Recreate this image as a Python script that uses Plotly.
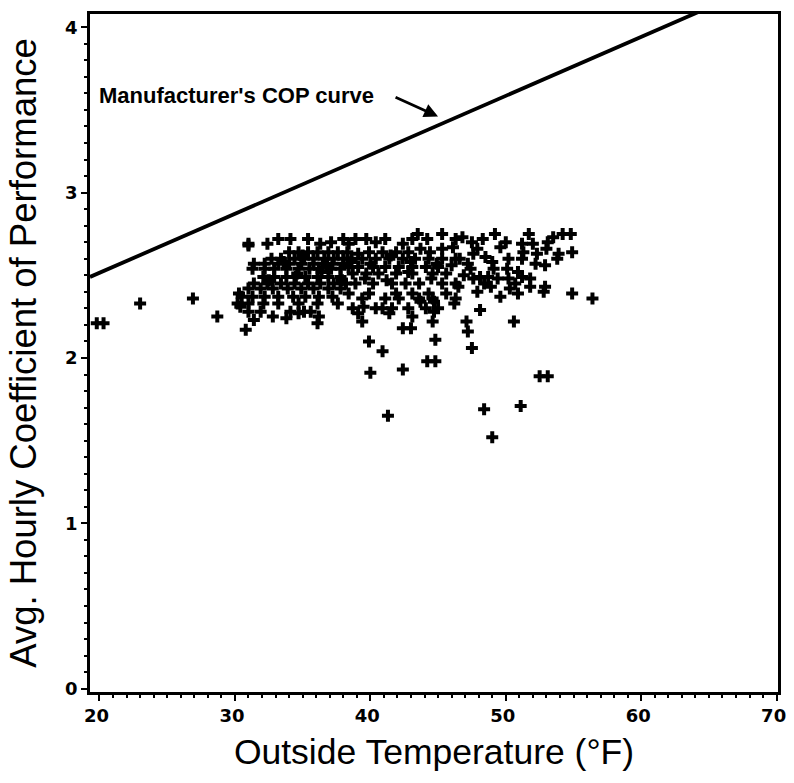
import plotly.graph_objects as go

temp_f = [
    19.8, 20.3, 23.0, 26.9, 28.7, 30.8, 31.0, 30.3, 30.4,
    39.9, 40.9, 40.0, 42.4, 41.3, 42.4, 43.0, 44.2, 44.8, 44.8, 44.6, 44.7, 43.1, 46.2, 47.1, 47.2, 47.5,
    48.1, 48.4, 49.0, 50.6, 51.1, 52.5, 53.1, 56.4, 36.1, 36.2, 39.4, 39.1, 39.5, 40.9, 41.4, 43.7, 44.7,
    35.1, 54.9, 33.8, 32.8, 31.4, 34.7,
    54.8, 54.2, 53.5, 53.1, 53.0, 53.9, 54.9, 53.8, 52.9, 51.7, 52.0, 51.2, 51.3, 51.2, 52.3, 52.2,
    49.2, 50.0, 49.6, 50.2, 50.1, 50.9, 51.2, 51.8, 50.2, 50.7, 50.3, 51.8, 50.9, 52.9, 52.8,
    49.1, 49.4, 48.7, 48.1, 47.6, 48.4, 48.3, 48.5, 47.6, 47.2, 47.4, 49.0,
    46.8, 47.5, 47.9, 46.6, 46.9, 47.9, 48.9, 49.6, 46.5,
    45.3, 43.5, 44.2, 43.1, 42.4, 41.1, 40.4, 39.7, 38.9, 38.4,
    46.3, 46.1, 45.3, 44.4, 43.7, 42.8, 41.9, 40.9, 39.9, 39.1,
    38.6, 39.4, 40.4, 41.4, 42.4, 43.3, 44.3, 45.3, 46.3,
    38.4, 39.1, 40.2, 41.1, 42.1, 43.1, 44.1, 45.0,
    38.7, 39.7, 40.6, 41.9, 43.1, 44.6, 45.6,
    38.9, 40.2, 41.6, 42.6, 43.6, 45.3, 46.3,
    38.4, 39.9, 41.9, 43.1, 44.3, 45.6,
    39.4, 41.1, 42.1, 43.6, 44.6, 46.3,
    38.7, 40.4, 41.6, 42.8, 44.1, 45.0,
    31.0, 32.4, 33.2, 34.1, 35.4, 36.3, 37.1, 38.0,
    34.0, 34.7, 35.4, 36.1, 36.9, 37.6, 38.3,
    32.7, 33.4, 34.4, 35.1, 35.8, 36.6, 37.3, 38.0,
    31.4, 32.2, 33.2, 34.0, 34.9, 35.8, 36.5, 37.2, 38.0,
    31.3, 32.2, 32.9, 33.8, 34.7, 35.5, 36.2, 37.1, 37.8,
    32.1, 32.9, 33.8, 34.5, 35.2, 36.1, 36.9, 37.8,
    31.4, 32.4, 33.4, 34.4, 35.4, 36.3, 37.3, 38.2,
    31.0, 31.9, 32.8, 33.9, 34.9, 35.8, 36.9, 37.8,
    30.5, 31.3, 32.2, 33.2, 34.3, 35.2, 36.2, 37.2,
    30.2, 31.0, 32.1, 33.2, 34.7, 36.1, 37.6,
    31.0, 31.9, 34.1, 35.6,
    33.6, 35.0, 36.8, 38.6, 40.0, 41.5, 43.0, 44.9, 46.0,
    32.5, 34.6, 36.4, 37.9, 39.6, 41.2, 42.8, 44.5,
]
cop = [
    2.21, 2.21, 2.33, 2.36, 2.25, 2.17, 2.68, 2.39, 2.31,
    2.10, 2.04, 1.91, 1.93, 1.65, 2.18, 2.18, 1.98, 1.98, 2.11, 2.22, 2.28, 2.25, 2.33, 2.22, 2.16, 2.06,
    2.29, 1.69, 1.52, 2.22, 1.71, 1.89, 1.89, 2.36, 2.21, 2.25, 2.22, 2.27, 2.31, 2.30, 2.27, 2.34, 2.34,
    2.28, 2.39, 2.24, 2.25, 2.23, 2.27,
    2.75, 2.75, 2.73, 2.70, 2.66, 2.63, 2.64, 2.60, 2.56, 2.75, 2.69, 2.69, 2.64, 2.60, 2.63, 2.57,
    2.75, 2.70, 2.67, 2.60, 2.54, 2.52, 2.49, 2.48, 2.48, 2.45, 2.42, 2.43, 2.39, 2.43, 2.40,
    2.54, 2.48, 2.49, 2.49, 2.48, 2.45, 2.72, 2.61, 2.63, 2.57, 2.54, 2.58,
    2.73, 2.70, 2.66, 2.60, 2.50, 2.40, 2.43, 2.37, 2.43,
    2.75, 2.75, 2.72, 2.72, 2.69, 2.72, 2.70, 2.72, 2.72, 2.69,
    2.72, 2.67, 2.66, 2.64, 2.66, 2.64, 2.64, 2.64, 2.64, 2.63,
    2.60, 2.60, 2.60, 2.60, 2.60, 2.60, 2.60, 2.60, 2.60,
    2.55, 2.55, 2.55, 2.55, 2.55, 2.55, 2.55, 2.55,
    2.51, 2.51, 2.51, 2.51, 2.51, 2.51, 2.51,
    2.45, 2.45, 2.45, 2.45, 2.45, 2.45, 2.45,
    2.39, 2.39, 2.39, 2.39, 2.39, 2.39,
    2.36, 2.36, 2.36, 2.36, 2.36, 2.36,
    2.30, 2.30, 2.30, 2.30, 2.30, 2.30,
    2.69, 2.69, 2.72, 2.72, 2.72, 2.69, 2.70, 2.72,
    2.64, 2.64, 2.64, 2.64, 2.64, 2.64, 2.64,
    2.60, 2.60, 2.60, 2.60, 2.60, 2.60, 2.60, 2.60,
    2.57, 2.57, 2.57, 2.57, 2.57, 2.57, 2.57, 2.57, 2.57,
    2.54, 2.54, 2.54, 2.54, 2.54, 2.54, 2.54, 2.54, 2.54,
    2.49, 2.49, 2.49, 2.49, 2.49, 2.49, 2.49, 2.49,
    2.45, 2.45, 2.45, 2.45, 2.45, 2.45, 2.45, 2.45,
    2.42, 2.42, 2.42, 2.42, 2.42, 2.42, 2.42, 2.42,
    2.37, 2.37, 2.37, 2.37, 2.37, 2.37, 2.37, 2.37,
    2.33, 2.33, 2.33, 2.33, 2.33, 2.33, 2.33,
    2.28, 2.28, 2.28, 2.28,
    2.58, 2.62, 2.56, 2.58, 2.57, 2.62, 2.58, 2.57, 2.56,
    2.47, 2.51, 2.52, 2.47, 2.48, 2.47, 2.52, 2.48,
]

mfr_temp = [19.3, 65.0]
mfr_cop = [2.49, 4.12]

x_ticks = [20, 30, 40, 50, 60, 70]
y_ticks = [0, 1, 2, 3, 4]

fig = go.Figure()
fig.add_trace(go.Scatter(
    x=mfr_temp, y=mfr_cop, mode="lines",
    line=dict(color="black", width=3.8), showlegend=False, hoverinfo="skip"))
fig.add_trace(go.Scatter(
    x=temp_f, y=cop, mode="markers",
    marker=dict(symbol="cross", size=10, color="black", line=dict(width=0)),
    showlegend=False))

fig.add_annotation(
    x=19.8, y=3.59, xref="x", yref="y", text="<b>Manufacturer's COP curve</b>",
    showarrow=False, xanchor="left", yanchor="middle",
    font=dict(family="Liberation Sans, Arial", size=22, color="black"))
fig.add_annotation(
    x=45.0, y=3.46, xref="x", yref="y", text="",
    showarrow=True, arrowhead=2, arrowsize=1, arrowwidth=2.8, arrowcolor="black",
    ax=-44, ay=-20)

tickfont = dict(family="DejaVu Sans", size=18, color="black", weight="bold")

fig.update_xaxes(
    range=[19.3, 70.1], tickvals=x_ticks, ticktext=[str(v) for v in x_ticks],
    ticks="outside", ticklen=6, tickwidth=2, tickcolor="black",
    minor=dict(dtick=1, ticks="outside", ticklen=3, tickwidth=1.5, tickcolor="black"),
    showline=True, linecolor="black", linewidth=2.5, mirror=True,
    showgrid=False, zeroline=False, tickfont=tickfont, automargin=False,
    ticklabelshift=-3,
    title=dict(text="Outside Temperature (°F)", standoff=14,
               font=dict(family="Liberation Sans, Arial", size=35.5, color="black")))
fig.update_yaxes(
    range=[-0.02, 4.08], tickvals=y_ticks, ticktext=[str(v) for v in y_ticks],
    ticks="outside", ticklen=6, tickwidth=2, tickcolor="black",
    minor=dict(dtick=0.1, ticks="outside", ticklen=3, tickwidth=1.5, tickcolor="black"),
    showline=True, linecolor="black", linewidth=2.5, mirror=True,
    showgrid=False, zeroline=False, tickfont=tickfont, automargin=False,
    title=dict(text="Avg. Hourly Coefficient of Performance", standoff=18,
               font=dict(family="Liberation Sans, Arial", size=36.5, color="black")))

fig.update_layout(
    width=794, height=783,
    margin=dict(l=90, r=16, t=14, b=91),
    paper_bgcolor="white", plot_bgcolor="white",
)

fig.write_html("out.html", config={"displayModeBar": False},
               post_script="document.body.style.margin='0';")
